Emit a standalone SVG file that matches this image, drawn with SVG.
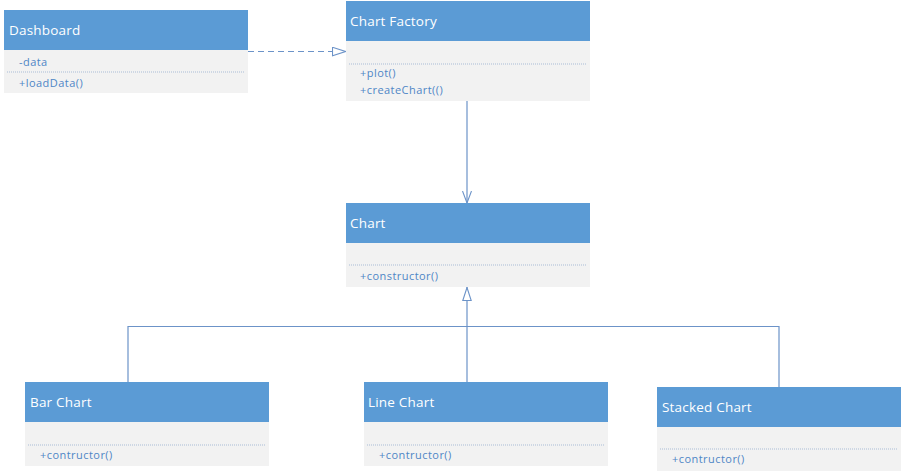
<svg xmlns="http://www.w3.org/2000/svg" width="903" height="474" viewBox="0 0 903 474">
<defs>
<style>
.hd{fill:#5B9BD5}
.bd{fill:#F2F2F2}
.ht{font-family:"Open Sans","Noto Sans","DejaVu Sans",sans-serif;font-size:13.5px;letter-spacing:0.2px;fill:#FFFFFF}
.mt{font-family:"Open Sans","Noto Sans","DejaVu Sans",sans-serif;font-size:11px;letter-spacing:0.45px;fill:#4F86C6}
.dv{stroke:#A9BCD6;stroke-width:1;stroke-dasharray:1 1;fill:none}
.cn{stroke:#6C93C8;stroke-width:1.2;fill:none}
</style>
<marker id="openTri" viewBox="0 0 14 10" refX="14" refY="5" markerWidth="14" markerHeight="10" markerUnits="userSpaceOnUse" orient="auto">
<path d="M0.5,0.8 L13.5,5 L0.5,9.2 Z" fill="#FFFFFF" stroke="#6C93C8" stroke-width="1.1"/>
</marker>
<marker id="openArrow" viewBox="0 0 12 10" refX="12" refY="5" markerWidth="12" markerHeight="10" markerUnits="userSpaceOnUse" orient="auto">
<path d="M0,0.5 L12,5 L0,9.5" fill="none" stroke="#6C93C8" stroke-width="1.1"/>
</marker>
</defs>
<rect width="903" height="474" fill="#FFFFFF"/>
<g id="connectors">
<path class="cn" d="M248,51.5 L346,51.5" stroke-dasharray="6 4" marker-end="url(#openTri)"/>
<path class="cn" d="M467,101 L467,203" marker-end="url(#openArrow)"/>
<path class="cn" d="M467,382 L467,287" marker-end="url(#openTri)"/>
<path class="cn" d="M128,382 L128,326.5 L779,326.5 L779,387"/>
</g>
<g id="dashboard">
<rect class="hd" x="4" y="10" width="244" height="40"/>
<rect class="bd" x="4" y="50" width="244" height="43"/>
<text class="ht" x="9" y="35">Dashboard</text>
<text class="mt" x="19" y="66">-data</text>
<line class="dv" x1="7" y1="72" x2="245" y2="72"/>
<text class="mt" x="19" y="87">+loadData()</text>
</g>
<g id="chart-factory">
<rect class="hd" x="346" y="1" width="244" height="40"/>
<rect class="bd" x="346" y="41" width="244" height="60"/>
<text class="ht" x="350" y="26">Chart Factory</text>
<line class="dv" x1="349" y1="64" x2="587" y2="64"/>
<text class="mt" x="360" y="77">+plot()</text>
<text class="mt" x="360" y="94">+createChart(()</text>
</g>
<g id="chart">
<rect class="hd" x="346" y="203" width="244" height="40"/>
<rect class="bd" x="346" y="243" width="244" height="44"/>
<text class="ht" x="350" y="228">Chart</text>
<line class="dv" x1="349" y1="265" x2="587" y2="265"/>
<text class="mt" x="360" y="280">+constructor()</text>
</g>
<g id="bar-chart">
<rect class="hd" x="25" y="382" width="244" height="40"/>
<rect class="bd" x="25" y="422" width="244" height="44"/>
<text class="ht" x="30" y="407">Bar Chart</text>
<line class="dv" x1="28" y1="445" x2="266" y2="445"/>
<text class="mt" x="40" y="459">+contructor()</text>
</g>
<g id="line-chart">
<rect class="hd" x="364" y="382" width="244" height="40"/>
<rect class="bd" x="364" y="422" width="244" height="44"/>
<text class="ht" x="368" y="407">Line Chart</text>
<line class="dv" x1="367" y1="445" x2="605" y2="445"/>
<text class="mt" x="379" y="459">+contructor()</text>
</g>
<g id="stacked-chart">
<rect class="hd" x="657" y="387" width="244" height="40"/>
<rect class="bd" x="657" y="427" width="244" height="44"/>
<text class="ht" x="662" y="412">Stacked Chart</text>
<line class="dv" x1="660" y1="449" x2="898" y2="449"/>
<text class="mt" x="672" y="463">+contructor()</text>
</g>
</svg>
